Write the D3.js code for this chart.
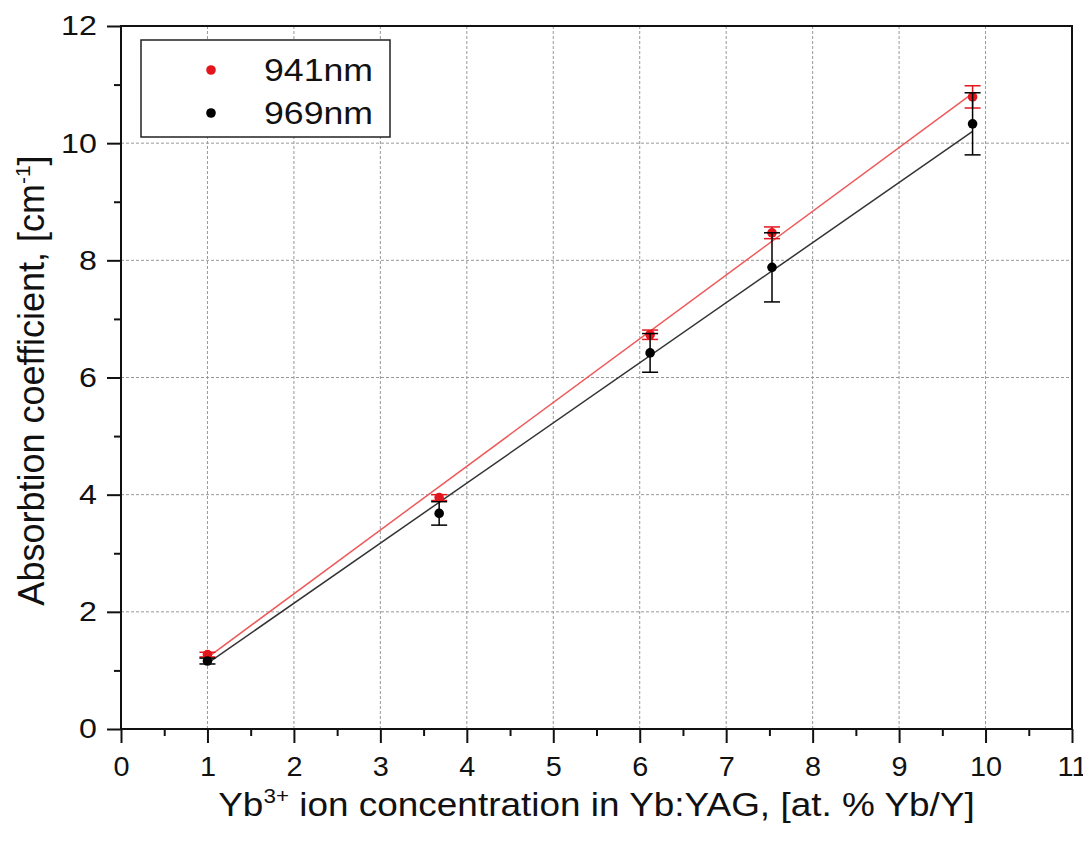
<!DOCTYPE html>
<html>
<head>
<meta charset="utf-8">
<script src="https://cdn.jsdelivr.net/npm/d3@7"></script>
<style>
  body { margin: 0; background: #fff; }
  svg { font-family: "Liberation Sans", Arial, Helvetica, sans-serif; }
</style>
</head>
<body>
<svg id="chart" width="1083" height="853"></svg>
<script>
// concentrations (at. % Yb/Y)
var conc = [1.0, 3.68, 6.12, 7.53, 9.85];
// absorption coefficient, cm-1
var abs941 = [1.27, 3.95, 6.73, 8.47, 10.79];
var err941 = [0.04, 0.05, 0.08, 0.10, 0.19];
var abs969 = [1.16, 3.68, 6.42, 7.88, 10.33];
var err969 = [0.05, 0.20, 0.33, 0.59, 0.53];
// linear fit end points
var fitX = [1.0, 9.85];
var fit941 = [1.22, 10.85];
var fit969 = [1.12, 10.20];

var xTicks = d3.range(0, 12);
var yTicks = [0, 2, 4, 6, 8, 10, 12];

var svg = d3.select('#chart');
var mLeft = 121, mRight = 1072, mTop = 26, mBottom = 729;
var FONT = '"Liberation Sans", Arial, Helvetica, sans-serif';

var x = d3.scaleLinear().domain([0, 11]).range([mLeft, mRight]);
var y = d3.scaleLinear().domain([0, 12]).range([mBottom, mTop]);

// grid
var grid = svg.append('g').attr('class', 'grid');
grid.selectAll('.vg').data(xTicks.filter(function(d) { return d > 0; }))
    .enter().append('line')
    .attr('x1', function(d) { return x(d); }).attr('x2', function(d) { return x(d); })
    .attr('y1', mTop).attr('y2', mBottom)
    .attr('stroke', '#999').attr('stroke-width', 1).attr('stroke-dasharray', '3,2');
grid.selectAll('.hg').data(yTicks.filter(function(d) { return d > 0; }))
    .enter().append('line')
    .attr('y1', function(d) { return y(d); }).attr('y2', function(d) { return y(d); })
    .attr('x1', mLeft).attr('x2', mRight)
    .attr('stroke', '#999').attr('stroke-width', 1).attr('stroke-dasharray', '3,2');

// axes
var xAxis = d3.axisBottom(x).tickValues(xTicks).tickSize(14).tickPadding(13).tickFormat(d3.format('d'));
var xMinor = d3.axisBottom(x).tickValues(d3.range(0.5, 11, 1)).tickSize(7).tickFormat('');
var yAxis = d3.axisLeft(y).tickValues(yTicks).tickSize(14).tickPadding(7).tickFormat(d3.format('d'));
var yMinor = d3.axisLeft(y).tickValues(d3.range(1, 12, 2)).tickSize(7).tickFormat('');

function styleAxis(g, sx) {
    g.attr('font-family', FONT).attr('font-size', 28);
    g.select('.domain').remove();
    g.selectAll('line').attr('stroke', '#111').attr('stroke-width', 2);
    g.selectAll('text').attr('fill', '#111').attr('transform', 'scale(' + sx + ',1)');
}

svg.append('g').attr('transform', 'translate(0,' + mBottom + ')').call(xMinor).call(styleAxis, 1);
svg.append('g').attr('transform', 'translate(0,' + mBottom + ')').call(xAxis).call(styleAxis, 1.03);
svg.append('g').attr('transform', 'translate(' + mLeft + ',0)').call(yMinor).call(styleAxis, 1);
svg.append('g').attr('transform', 'translate(' + mLeft + ',0)').call(yAxis).call(styleAxis, 1.15);

// frame
svg.append('rect')
    .attr('x', mLeft).attr('y', mTop)
    .attr('width', mRight - mLeft).attr('height', mBottom - mTop)
    .attr('fill', 'none').attr('stroke', '#111').attr('stroke-width', 2);

// series
var series = [
    { name: '941nm', vals: abs941, errs: err941, fit: fit941, color: '#e3161d', lineColor: '#ee5a5a' },
    { name: '969nm', vals: abs969, errs: err969, fit: fit969, color: '#000', lineColor: '#333' }
];

var line = d3.line().x(function(d) { return x(d[0]); }).y(function(d) { return y(d[1]); });

series.forEach(function(s) {
    svg.append('path')
        .datum(d3.zip(fitX, s.fit))
        .attr('d', line)
        .attr('fill', 'none')
        .attr('stroke', s.lineColor)
        .attr('stroke-width', 1.5);
});

series.forEach(function(s) {
    var g = svg.append('g');
    var pts = d3.zip(conc, s.vals, s.errs);
    g.selectAll('.eb').data(pts).enter().append('line')
        .attr('x1', function(d) { return x(d[0]); }).attr('x2', function(d) { return x(d[0]); })
        .attr('y1', function(d) { return y(d[1] + d[2]); }).attr('y2', function(d) { return y(d[1] - d[2]); })
        .attr('stroke', s.color).attr('stroke-width', 1.5);
    [1, -1].forEach(function(sign) {
        g.selectAll('.cap' + sign).data(pts).enter().append('line')
            .attr('x1', function(d) { return x(d[0]) - 8; }).attr('x2', function(d) { return x(d[0]) + 8; })
            .attr('y1', function(d) { return y(d[1] + sign * d[2]); })
            .attr('y2', function(d) { return y(d[1] + sign * d[2]); })
            .attr('stroke', s.color).attr('stroke-width', 1.5);
    });
    g.selectAll('circle').data(pts).enter().append('circle')
        .attr('cx', function(d) { return x(d[0]); })
        .attr('cy', function(d) { return y(d[1]); })
        .attr('r', 4.8)
        .attr('fill', s.color);
});

// legend
var legend = svg.append('g');
legend.append('rect')
    .attr('x', 141).attr('y', 40).attr('width', 249).attr('height', 97)
    .attr('fill', '#fff').attr('stroke', '#222').attr('stroke-width', 1.5);
series.forEach(function(s, i) {
    legend.append('circle').attr('cx', 211).attr('cy', 70 + i * 43).attr('r', 4.8).attr('fill', s.color);
    legend.append('text')
        .attr('transform', 'translate(264,' + (70 + i * 43 + 11) + ') scale(1.15,1)')
        .style('font-size', '31px').attr('fill', '#111').text(s.name);
});

// axis titles
var xt = svg.append('text')
    .attr('transform', 'translate(' + (mLeft + mRight) / 2 + ',816) scale(1.12,1)')
    .attr('text-anchor', 'middle')
    .style('font-size', '33px').attr('fill', '#111');
xt.append('tspan').text('Yb');
xt.append('tspan').attr('dy', -13).style('font-size', '20px').text('3+');
xt.append('tspan').attr('dy', 13).text(' ion concentration in Yb:YAG, [at. % Yb/Y]');

var yt = svg.append('text')
    .attr('transform', 'translate(44,' + ((mTop + mBottom) / 2 + 3) + ') rotate(-90)')
    .attr('text-anchor', 'middle')
    .style('font-size', '36px').attr('fill', '#111');
yt.append('tspan').text('Absorbtion coefficient, [cm');
yt.append('tspan').attr('dy', -14).style('font-size', '21px').text('-1');
yt.append('tspan').attr('dy', 14).text(']');
</script>
</body>
</html>
